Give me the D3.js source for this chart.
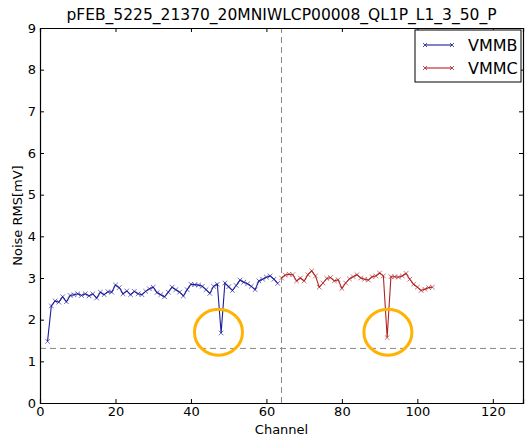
<!DOCTYPE html>
<html>
<head>
<meta charset="utf-8">
<script src="https://cdn.jsdelivr.net/npm/d3@7"></script>
<style>
  html, body { margin: 0; padding: 0; background: #fff; }
  svg { display: block; }
  text { font-family: "DejaVu Sans", sans-serif; fill: #000; }
</style>
</head>
<body>
<div id="chart"></div>
<script>
// ---- data ----
const title = "pFEB_5225_21370_20MNIWLCP00008_QL1P_L1_3_50_P";
const xLabel = "Channel";
const yLabel = "Noise RMS[mV]";
const seriesNames = ["VMMB", "VMMC"];
const vmmbChannels = d3.range(2, 64);
const vmmbValues = [
  1.48, 2.33, 2.45, 2.42, 2.55, 2.43, 2.58, 2.60, 2.62, 2.58,
  2.62, 2.57, 2.62, 2.52, 2.66, 2.60, 2.67, 2.66, 2.83, 2.77,
  2.62, 2.69, 2.60, 2.68, 2.62, 2.60, 2.68, 2.74, 2.78, 2.65,
  2.60, 2.55, 2.66, 2.78, 2.72, 2.66, 2.57, 2.72, 2.85, 2.84,
  2.83, 2.80, 2.72, 2.63, 2.80, 2.85, 1.68, 2.88, 2.79, 2.70,
  2.82, 2.95, 2.90, 2.86, 2.80, 2.72, 2.93, 2.97, 3.02, 3.05,
  2.97, 2.87
];
const vmmcChannels = d3.range(64, 105);
const vmmcValues = [
  3.00, 3.07, 3.09, 3.08, 2.93, 3.00, 2.93, 3.08, 3.17, 3.05,
  2.78, 2.88, 2.99, 3.01, 2.93, 2.96, 2.75, 2.88, 2.98, 3.03,
  3.08, 3.00, 2.97, 2.95, 3.03, 3.05, 3.12, 3.05, 1.57, 3.03,
  3.03, 3.02, 3.05, 3.11, 2.97, 2.85, 2.78, 2.70, 2.73, 2.77,
  2.78
];
const xTicks = [0, 20, 40, 60, 80, 100, 120];
const yTicks = [0, 1, 2, 3, 4, 5, 6, 7, 8, 9];
const thresholdValue = 1.31;
const dividerChannel = 64;
const annotationCenters = [[47.3, 1.70], [92.2, 1.70]];

// ---- layout ----
const W = 528, H = 440;
const M = { left: 40, right: 5, top: 28, bottom: 37 };
const x = d3.scaleLinear().domain([0, 128]).range([M.left, W - M.right]);
const y = d3.scaleLinear().domain([0, 9]).range([H - M.bottom, M.top]);

const svg = d3.select("#chart").append("svg").attr("width", W).attr("height", H);

const colors = ["#1c1c9c", "#b22222"];
const series = [
  { name: seriesNames[0], pts: vmmbChannels.map((c, i) => [c, vmmbValues[i]]) },
  { name: seriesNames[1], pts: vmmcChannels.map((c, i) => [c, vmmcValues[i]]) }
];

// reference lines
svg.append("line")
  .attr("x1", x(0)).attr("x2", x(128))
  .attr("y1", y(thresholdValue)).attr("y2", y(thresholdValue))
  .attr("stroke", "#888").attr("stroke-width", 1).attr("stroke-dasharray", "6,4");
svg.append("line")
  .attr("x1", x(dividerChannel)).attr("x2", x(dividerChannel))
  .attr("y1", y(0)).attr("y2", y(9))
  .attr("stroke", "#888").attr("stroke-width", 1).attr("stroke-dasharray", "6,4");

// series
const line = d3.line().x(d => x(d[0])).y(d => y(d[1]));
series.forEach((s, k) => {
  svg.append("path").datum(s.pts).attr("d", line)
    .attr("fill", "none").attr("stroke", colors[k]).attr("stroke-width", 1.1);
  const g = svg.append("g");
  g.selectAll("path").data(s.pts).join("path")
    .attr("d", d => {
      const cx = x(d[0]), cy = y(d[1]), r = 2.3;
      return `M${cx - r},${cy - r}L${cx + r},${cy + r}M${cx - r},${cy + r}L${cx + r},${cy - r}`;
    })
    .attr("stroke", colors[k]).attr("stroke-width", 0.8).attr("opacity", 0.8);
});

// annotation circles
svg.selectAll("ellipse.ann").data(annotationCenters).join("ellipse")
  .attr("class", "ann")
  .attr("cx", d => x(d[0])).attr("cy", d => y(d[1]))
  .attr("rx", 24).attr("ry", 23)
  .attr("fill", "none").attr("stroke", "#ffb300").attr("stroke-width", 3);

// axes (ticks inward, all sides)
const fs = 13;
const axB = svg.append("g").attr("transform", `translate(0,${y(0)})`)
  .call(d3.axisBottom(x).tickValues(xTicks).tickSize(-4).tickPadding(4).tickFormat(d3.format("d")));
const axT = svg.append("g").attr("transform", `translate(0,${y(9)})`)
  .call(d3.axisTop(x).tickValues(xTicks).tickSize(-4).tickFormat(""));
const axL = svg.append("g").attr("transform", `translate(${x(0)},0)`)
  .call(d3.axisLeft(y).tickValues(yTicks).tickSize(-4).tickPadding(4).tickFormat(d3.format("d")));
const axR = svg.append("g").attr("transform", `translate(${x(128)},0)`)
  .call(d3.axisRight(y).tickValues(yTicks).tickSize(-4).tickFormat(""));
[axB, axT, axL, axR].forEach(a => {
  a.select(".domain").attr("stroke", "#000").attr("stroke-width", 1.2);
  a.selectAll(".tick line").attr("stroke", "#000");
  a.selectAll("text").attr("font-size", fs).attr("font-family", "DejaVu Sans");
});

// labels
svg.append("text").attr("x", (x(0) + x(128)) / 2).attr("y", 20)
  .attr("text-anchor", "middle").attr("font-size", 15.5).text(title);
svg.append("text").attr("x", (x(0) + x(128)) / 2).attr("y", 434)
  .attr("text-anchor", "middle").attr("font-size", 13).text(xLabel);
svg.append("text").attr("transform", `translate(22,${(y(0) + y(9)) / 2}) rotate(-90)`)
  .attr("text-anchor", "middle").attr("font-size", 13).text(yLabel);

// legend
const lg = svg.append("g").attr("transform", "translate(415,30)");
lg.append("rect").attr("width", 106).attr("height", 52)
  .attr("fill", "#fff").attr("stroke", "#000").attr("stroke-width", 1);
series.forEach((s, k) => {
  const ly = 15 + k * 23;
  lg.append("line").attr("x1", 10).attr("x2", 37).attr("y1", ly).attr("y2", ly)
    .attr("stroke", colors[k]).attr("stroke-width", 1.1);
  [10, 37].forEach(px => {
    lg.append("path").attr("d", `M${px - 2},${ly - 2}L${px + 2},${ly + 2}M${px - 2},${ly + 2}L${px + 2},${ly - 2}`)
      .attr("stroke", colors[k]).attr("stroke-width", 0.8);
  });
  lg.append("text").attr("x", 53).attr("y", ly + 6).attr("font-size", 16).text(s.name);
});
</script>
</body>
</html>
